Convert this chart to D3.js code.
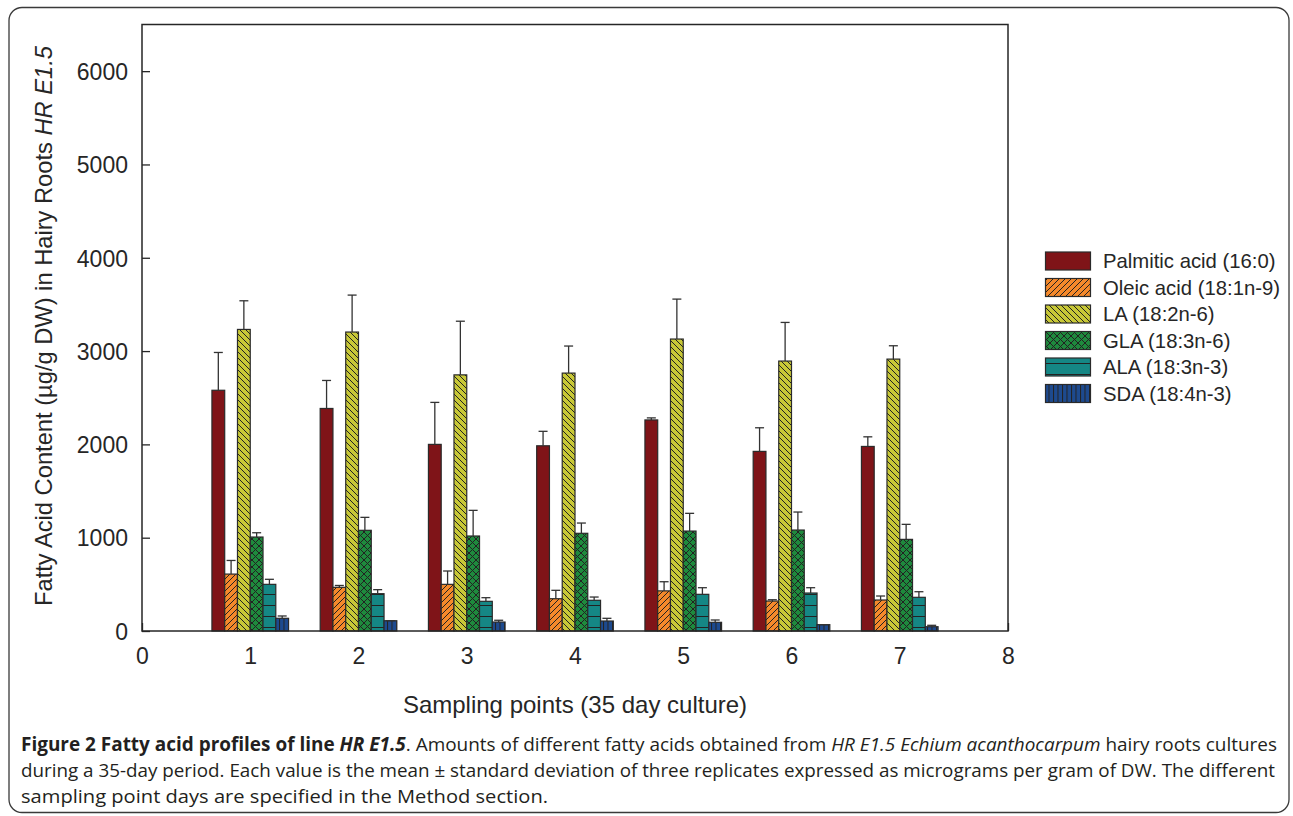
<!DOCTYPE html>
<html>
<head>
<meta charset="utf-8">
<script src="https://cdn.jsdelivr.net/npm/d3@7"></script>
<style>
  html, body { margin: 0; padding: 0; background: #fff; }
  svg { display: block; }
</style>
</head>
<body>
<svg id="chart" width="1293" height="816"></svg>
<script>
// Sampling points along the 35-day culture
const samplingPoints = [1, 2, 3, 4, 5, 6, 7];

// Fatty acid series (µg/g DW): means and standard deviations
const seriesNames = [
  "Palmitic acid (16:0)",
  "Oleic acid (18:1n-9)",
  "LA (18:2n-6)",
  "GLA (18:3n-6)",
  "ALA (18:3n-3)",
  "SDA (18:4n-3)"
];
const palmitic    = [2580, 2385, 2000, 1985, 2262, 1925, 1978];
const palmiticSD  = [405, 300, 450, 155, 22, 253, 103];
const oleic       = [610, 468, 500, 346, 430, 321, 332];
const oleicSD     = [146, 20, 143, 90, 98, 14, 43];
const la          = [3232, 3204, 2745, 2764, 3129, 2893, 2914];
const laSD        = [307, 396, 575, 290, 428, 414, 143];
const gla         = [1007, 1079, 1018, 1047, 1071, 1082, 982];
const glaSD       = [46, 139, 275, 110, 190, 193, 161];
const ala         = [500, 400, 318, 329, 393, 407, 361];
const alaSD       = [54, 43, 39, 35, 71, 57, 60];
const sda         = [136, 110, 96, 107, 93, 68, 46];
const sdaSD       = [25, 0, 19, 29, 25, 0, 15];

const seriesMeans = [palmitic, oleic, la, gla, ala, sda];
const seriesSDs   = [palmiticSD, oleicSD, laSD, glaSD, alaSD, sdaSD];

const yTicks = [0, 1000, 2000, 3000, 4000, 5000, 6000];
const xTicks = [0, 1, 2, 3, 4, 5, 6, 7, 8];

const fills = ["#7f1418", "#f5892b", "#c8c837", "#1e8a3d", "#158785", "#1d4a8f"];
const patternIds = ["none", "pOleic", "pLA", "pGLA", "pALA", "pSDA"];

const svg = d3.select("#chart");
const font = "'Liberation Sans', Arial, Helvetica, sans-serif";
const ink = "#262626";

// ---- outer rounded frame
svg.append("rect")
  .attr("x", 9).attr("y", 7.5)
  .attr("width", 1280).attr("height", 805)
  .attr("rx", 13).attr("ry", 13)
  .attr("fill", "none").attr("stroke", "#3a3a3a").attr("stroke-width", 1.3);

// ---- fill patterns
const defs = svg.append("defs");
function stripePattern(id, bg, size, paths, w, h) {
  const p = defs.append("pattern")
    .attr("id", id).attr("patternUnits", "userSpaceOnUse")
    .attr("width", w || size).attr("height", h || size);
  p.append("rect").attr("width", w || size).attr("height", h || size).attr("fill", bg);
  paths.forEach(d => p.append("path").attr("d", d)
    .attr("stroke", "#222").attr("stroke-width", 1).attr("fill", "none"));
}
// forward diagonals
stripePattern("pOleic", fills[1], 6, ["M0,6 L6,0", "M-1,1 L1,-1", "M5,7 L7,5"]);
// back diagonals
stripePattern("pLA", fills[2], 6, ["M0,0 L6,6", "M-1,5 L1,7", "M5,-1 L7,1"]);
// cross-hatch
stripePattern("pGLA", fills[3], 7, ["M0,0 L7,7", "M0,7 L7,0", "M-1,6 L1,8", "M6,-1 L8,1", "M-1,1 L1,-1", "M6,8 L8,6"]);
// horizontal lines
stripePattern("pALA", fills[4], 0, ["M0,0.5 L20,0.5"], 20, 11);
// vertical lines
stripePattern("pSDA", fills[5], 0, ["M0.5,0 L0.5,20"], 4.5, 20);

const fillOf = i => i === 0 ? fills[0] : `url(#${patternIds[i]})`;

// ---- plot area
const plotLeft = 142, plotRight = 1008, plotTop = 24.5, plotBottom = 631;
const x = d3.scaleLinear().domain([0, 8]).range([plotLeft, plotRight]);
const y = d3.scaleLinear().domain([0, 6500]).range([plotBottom, plotTop]);

const yAxis = d3.axisLeft(y).tickValues(yTicks).tickSize(-8).tickPadding(14).tickFormat(d3.format("d"));
const gy = svg.append("g").attr("transform", `translate(${plotLeft},0)`).call(yAxis);
const xAxis = d3.axisBottom(x).tickValues(xTicks).tickSize(-8).tickPadding(17).tickFormat(d3.format("d"));
const gx = svg.append("g").attr("transform", `translate(0,${plotBottom})`).call(xAxis);
[gy, gx].forEach(g => {
  g.select(".domain").remove();
  g.selectAll(".tick line").attr("stroke", ink).attr("stroke-width", 1.3);
  g.selectAll(".tick text").attr("fill", ink).attr("font-family", font).attr("font-size", 23);
});
gy.selectAll(".tick text").attr("dy", "0.36em");
gx.selectAll(".tick text").attr("dy", "0.71em");

// ---- bars
const barW = 0.118; // in x-axis units
const groups = svg.append("g");
seriesMeans.forEach((vals, si) => {
  const off = (si - 3) * barW;
  const g = groups.append("g");
  g.selectAll("rect").data(vals).join("rect")
    .attr("x", (d, i) => x(samplingPoints[i] + off))
    .attr("width", x(barW) - x(0))
    .attr("y", d => y(d))
    .attr("height", d => y(0) - y(d))
    .attr("fill", fillOf(si))
    .attr("stroke", "#2a2a2a").attr("stroke-width", 1.2);
  // upper error bars
  const sds = seriesSDs[si];
  const cx = i => x(samplingPoints[i] + off + barW / 2);
  g.selectAll("line.err").data(vals).join("line").attr("class", "err")
    .attr("x1", (d, i) => cx(i)).attr("x2", (d, i) => cx(i))
    .attr("y1", d => y(d)).attr("y2", (d, i) => y(d + sds[i]))
    .attr("stroke", "#333").attr("stroke-width", 1.3);
  g.selectAll("line.cap").data(vals).join("line").attr("class", "cap")
    .attr("x1", (d, i) => cx(i) - 4.5).attr("x2", (d, i) => cx(i) + 4.5)
    .attr("y1", (d, i) => y(d + sds[i])).attr("y2", (d, i) => y(d + sds[i]))
    .attr("stroke", "#333").attr("stroke-width", 1.3);
});

// plot border
svg.append("rect")
  .attr("x", plotLeft).attr("y", plotTop)
  .attr("width", plotRight - plotLeft).attr("height", plotBottom - plotTop)
  .attr("fill", "none").attr("stroke", ink).attr("stroke-width", 1.5);

// ---- axis titles
svg.append("text")
  .attr("x", (plotLeft + plotRight) / 2).attr("y", 713)
  .attr("text-anchor", "middle")
  .attr("font-family", font).attr("font-size", 24).attr("fill", ink)
  .text("Sampling points (35 day culture)");

const yt = svg.append("text")
  .attr("transform", `translate(52,326) rotate(-90)`)
  .attr("text-anchor", "middle")
  .attr("font-family", font).attr("font-size", 23.7).attr("fill", ink);
yt.append("tspan").text("Fatty Acid Content (µg/g DW) in Hairy Roots ");
yt.append("tspan").attr("font-style", "italic").text("HR E1.5");

// ---- legend
const legend = svg.append("g");
seriesNames.forEach((name, i) => {
  const cy = 261 + i * 26.5;
  legend.append("rect")
    .attr("x", 1045.5).attr("y", cy - 9).attr("width", 45).attr("height", 18)
    .attr("fill", fillOf(i)).attr("stroke", "#2a2a2a").attr("stroke-width", 1.2);
  legend.append("text")
    .attr("x", 1103).attr("y", cy).attr("dy", "0.36em")
    .attr("font-family", font).attr("font-size", 20.3).attr("fill", ink)
    .text(name);
});

// ---- caption
const capFont = "'Open Sans', 'Noto Sans', sans-serif";
const capColor = "#231f20";
const capSize = 19;
const c1 = svg.append("text")
  .attr("x", 21).attr("y", 751)
  .attr("textLength", 1256).attr("lengthAdjust", "spacingAndGlyphs")
  .attr("font-family", capFont).attr("font-size", capSize).attr("fill", capColor);
c1.append("tspan").attr("font-weight", "bold").text("Figure 2 Fatty acid profiles of line ");
c1.append("tspan").attr("font-weight", "bold").attr("font-style", "italic").text("HR E1.5");
c1.append("tspan").text(". Amounts of different fatty acids obtained from ");
c1.append("tspan").attr("font-style", "italic").text("HR E1.5 Echium acanthocarpum");
c1.append("tspan").text(" hairy roots cultures");

svg.append("text")
  .attr("x", 21).attr("y", 777)
  .attr("textLength", 1254).attr("lengthAdjust", "spacingAndGlyphs")
  .attr("font-family", capFont).attr("font-size", capSize).attr("fill", capColor)
  .text("during a 35-day period. Each value is the mean ± standard deviation of three replicates expressed as micrograms per gram of DW. The different");

svg.append("text")
  .attr("x", 21).attr("y", 803)
  .attr("textLength", 527).attr("lengthAdjust", "spacingAndGlyphs")
  .attr("font-family", capFont).attr("font-size", capSize).attr("fill", capColor)
  .text("sampling point days are specified in the Method section.");
</script>
</body>
</html>
